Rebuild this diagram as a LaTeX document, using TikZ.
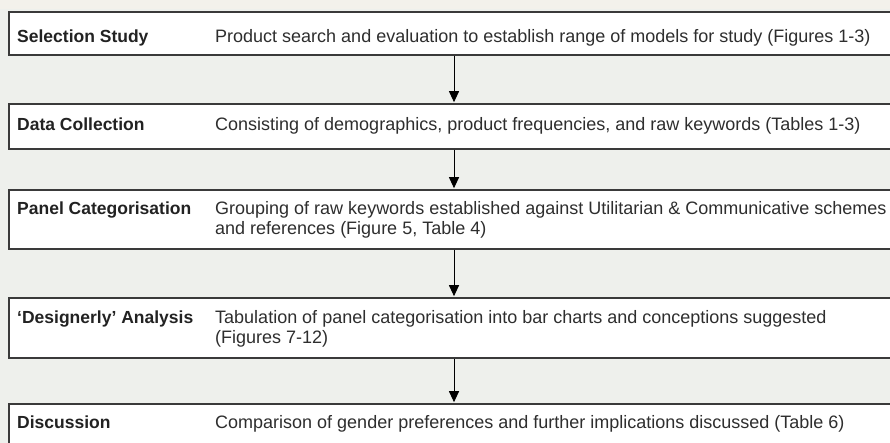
\documentclass[tikz,border=0pt]{standalone}
\usepackage{fontspec}
\setmainfont{Liberation Sans}
\usetikzlibrary{arrows.meta}
\definecolor{pagebg}{HTML}{EEF0EC}
\definecolor{topbg}{HTML}{F3F1EB}
\definecolor{frame}{HTML}{3A3A3A}
\definecolor{ink}{HTML}{222222}
\definecolor{descink}{HTML}{2E2E2E}
\tikzset{
  stagebox/.style={draw=frame, line width=1.6pt, fill=white, inner sep=0pt,
    anchor=north west, minimum width=892pt},
  stagelabel/.style={anchor=base west, inner sep=0pt, text=ink,
    font=\fontsize{17.5}{20}\selectfont\bfseries},
  stagetext/.style={anchor=base west, inner sep=0pt, text=descink, align=left,
    font=\fontsize{18}{20}\selectfont},
  flow/.style={draw=black, line width=1pt,
    -{Triangle[width=10pt,length=11pt]}, shorten >=0.8pt}
}
\begin{document}
\begin{tikzpicture}[x=1pt,y=-1pt]
  \useasboundingbox (0,0) rectangle (890,443);
  \clip (0,0) rectangle (890,443);
  \fill[pagebg] (0,0) rectangle (890,443);
  \fill[topbg] (0,0) rectangle (890,9);

  % stage frames (they run past the right edge)
  \node[stagebox, minimum height=43pt] (b1) at (8,11) {};
  \node[stagebox, minimum height=45pt] (b2) at (8,103) {};
  \node[stagebox, minimum height=59pt] (b3) at (8,189) {};
  \node[stagebox, minimum height=60pt] (b4) at (8,297) {};
  \node[stagebox, minimum height=60pt] (b5) at (8,403) {};

  % stage names
  \node[stagelabel] (l1) at (17,43) {Selection Study};
  \node[stagelabel] (l2) at (17,131) {Data Collection};
  \node[stagelabel] (l3) at (17,215) {Panel Categorisation};
  \node[stagelabel] (l4) at (17,323) {`Designerly' Analysis};
  \node[stagelabel] (l5) at (17,428) {Discussion};

  % stage descriptions (base anchor sits on the last line)
  \node[stagetext] (d1) at (215,43) {Product search and evaluation to establish range of models for study (Figures 1-3)};
  \node[stagetext] (d2) at (215,131) {Consisting of demographics, product frequencies, and raw keywords (Tables 1-3)};
  \node[stagetext] (d3) at (215,235) {Grouping of raw keywords established against Utilitarian \& Communicative schemes\\and references (Figure 5, Table 4)};
  \node[stagetext] (d4) at (215,343) {Tabulation of panel categorisation into bar charts and conceptions suggested\\(Figures 7-12)};
  \node[stagetext] (d5) at (215,428) {Comparison of gender preferences and further implications discussed (Table 6)};

  % flow between stages
  \coordinate (ax) at (454,0);
  \draw[flow] (b1.south -| ax) -- (b2.north -| ax);
  \draw[flow] (b2.south -| ax) -- (b3.north -| ax);
  \draw[flow] (b3.south -| ax) -- (b4.north -| ax);
  \draw[flow] (b4.south -| ax) -- (b5.north -| ax);
\end{tikzpicture}
\end{document}
